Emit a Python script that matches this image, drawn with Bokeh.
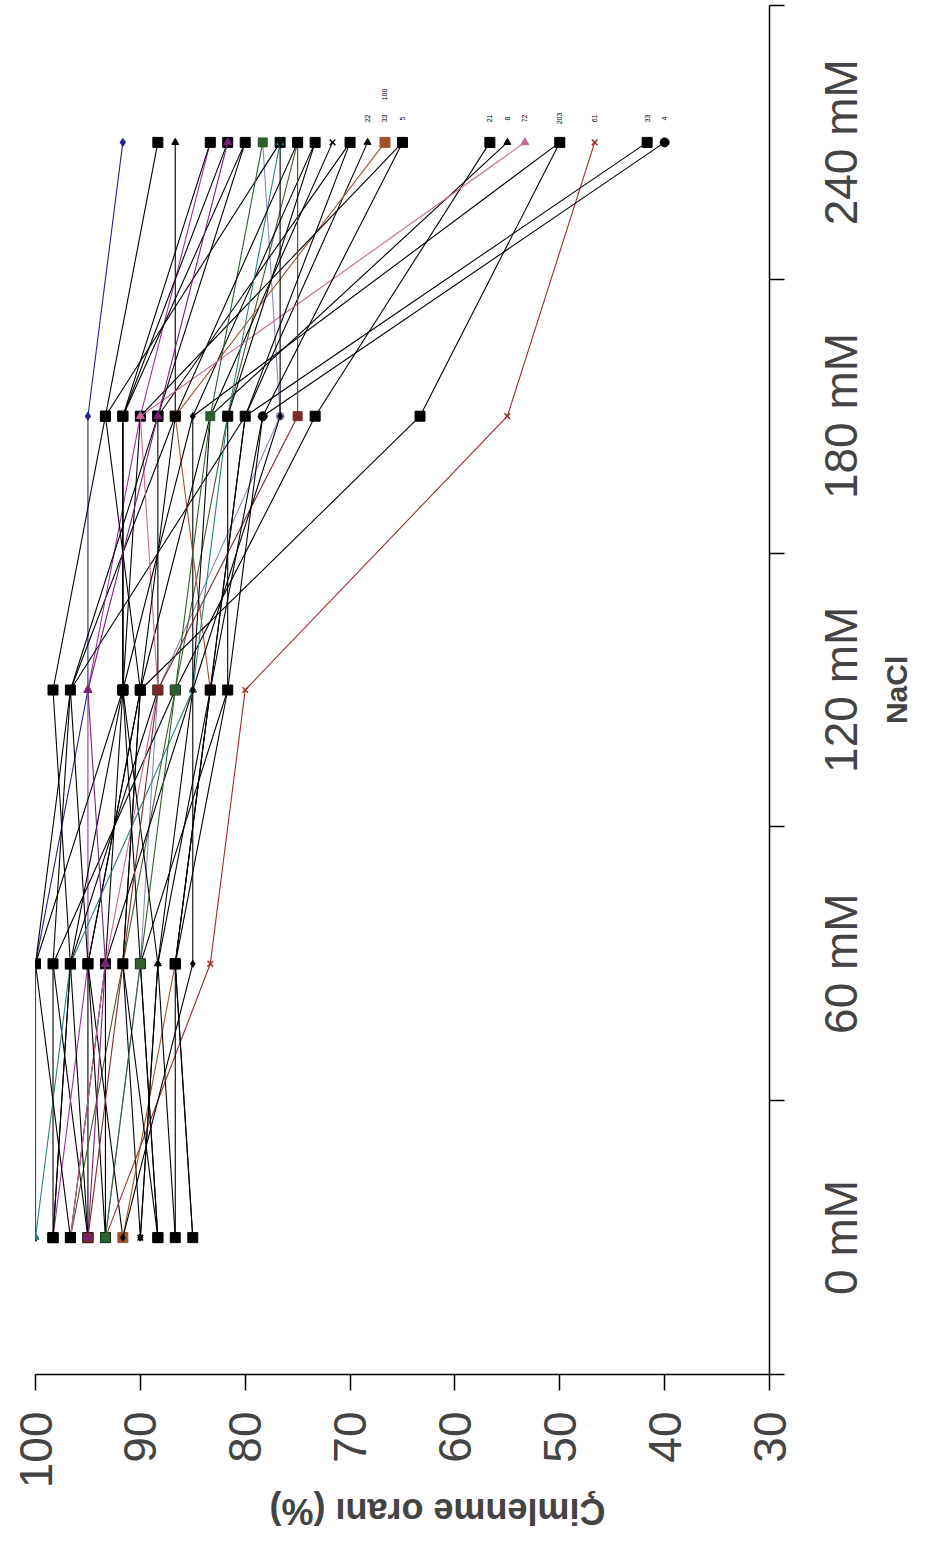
import math
from bokeh.plotting import figure
from bokeh.models import Range1d, FixedTicker, LinearAxis, ColumnDataSource
from bokeh.embed import file_html
from bokeh.resources import INLINE
from bokeh.core.properties import value

# NaCl concentrations (categories)
nacl = ["0 mM", "60 mM", "120 mM", "180 mM", "240 mM"]
pct_ticks = [100, 90, 80, 70, 60, 50, 40, 30]
x_title = "Çimlenme oranı (%)"
y_title = "NaCl"

# Germination rate (%) per genotype, at 0, 60, 120, 180, 240 mM NaCl
g01 = [100.0, 100.0, 95.0, 95.0, 91.67]
g02 = [98.33, 96.67, 98.33, 93.33, 88.33]
g03 = [95.0, 98.33, 96.67, 86.67, 86.67]
g04 = [98.33, 95.0, 95.0, 90.0, 83.33]
g05 = [96.67, 93.33, 91.67, 91.67, 81.67]
g06 = [100.0, 100.0, 91.67, 91.67, 80.0]
g07 = [93.33, 90.0, 88.33, 76.67, 78.33]
g08 = [95.0, 95.0, 90.0, 93.33, 76.67]
g09 = [96.67, 91.67, 86.67, 81.67, 75.0]
g10 = [93.33, 93.33, 85.0, 85.0, 73.33]
g11 = [90.0, 91.67, 90.0, 83.33, 71.67]
g12 = [95.0, 96.67, 88.33, 88.33, 70.0]
g13 = [91.67, 95.0, 96.67, 80.0, 68.33]
g14 = [91.67, 86.67, 83.33, 86.67, 66.67]
g15 = [88.33, 90.0, 91.67, 90.0, 65.0]
g16 = [98.33, 98.33, 86.67, 73.33, 56.67]
g17 = [86.67, 88.33, 85.0, 83.33, 55.0]
g18 = [96.67, 93.33, 88.33, 90.0, 53.33]
g19 = [93.33, 95.0, 90.0, 63.33, 50.0]
g20 = [90.0, 88.33, 91.67, 85.0, 50.0]
g21 = [93.33, 83.33, 80.0, 55.0, 46.67]
g22 = [85.0, 86.67, 83.33, 80.0, 41.67]
g23 = [88.33, 90.0, 81.67, 78.33, 40.0]
g24 = [100.0, 96.67, 85.0, 81.67, 76.67]
g25 = [96.67, 100.0, 96.67, 88.33, 80.0]
g26 = [95.0, 91.67, 88.33, 75.0, 75.0]
g27 = [86.67, 86.67, 81.67, 81.67, 73.33]
g28 = [93.33, 90.0, 86.67, 83.33, 78.33]
g29 = [91.67, 85.0, 85.0, 76.67, 76.67]
g30 = [98.33, 96.67, 91.67, 91.67, 83.33]
g31 = [95.0, 93.33, 95.0, 88.33, 81.67]
g32 = [90.0, 88.33, 83.33, 80.0, 70.0]
g33 = [88.33, 91.67, 90.0, 86.67, 75.0]
g34 = [85.0, 86.67, 83.33, 78.33, 65.0]

series = [g01, g02, g03, g04, g05, g06, g07, g08, g09, g10, g11, g12,
          g13, g14, g15, g16, g17, g18, g19, g20, g21, g22, g23, g24,
          g25, g26, g27, g28, g29, g30, g31, g32, g33, g34]

# small data labels above the 240 mM points
lab_values = [68.33, 66.67, 66.67, 65.0, 56.67, 55.0, 53.33, 50.0, 46.67, 41.67, 40.0]
lab_texts = ["22", "33", "100", "5", "21", "8", "72", "203", "61", "33", "4"]
lab_levels = [1, 1, 2, 1, 1, 1, 1, 1, 1, 1, 1]

K = "#000000"
colors = ["#22228f", K, K, "#993399", K, K, "#8a8ab8", K, "#4a5a30", K, K, K,
          K, "#a0522d", K, K, K, "#cc6699", K, K, "#a02828", K, K, "#2a8080",
          K, "#7a2a2a", K, "#2f5f2f", K, K, "#7a1f7a", K, K, K]
markers = ["diamond", "square", "triangle", "triangle", "square", "diamond", "circle",
           "square", "square", "diamond", "x", "square", "triangle", "square",
           "square", "square", "triangle", "triangle", "square", "diamond", "x",
           "square", "circle", "triangle", "square", "square", "square", "square",
           "diamond", "square", "triangle", "diamond", "square", "triangle"]
sizes = [8, 10, 7, 8, 10, 7, 8, 10, 9, 7, 8, 10, 7, 10, 10, 10, 7, 8, 10, 7, 8,
         10, 9, 7, 10, 9, 10, 9, 7, 10, 8, 7, 10, 7]

# ---- layout constants (pixels) ----
W, H = 932, 1555
B_LEFT, B_RIGHT, B_TOP, B_BOTTOM = 35, 163, 5, 178
FRAME_W = W - B_LEFT - B_RIGHT
FRAME_H = H - B_TOP - B_BOTTOM
X0, X1 = 100, 30
Y0, Y1 = -0.5, len(nacl) - 0.5
px_per_x = FRAME_W / abs(X0 - X1)
px_per_y = FRAME_H / (Y1 - Y0)

REG = {"0": .556, "1": .556, "2": .556, "3": .556, "4": .556, "5": .556, "6": .556,
       "7": .556, "8": .556, "9": .556, " ": .278, "m": .833, "M": .833}
BOLD = {" ": .278, "m": .889, "N": .722, "a": .556, "C": .722, "l": .278, "Ç": .722,
        "i": .278, "e": .556, "n": .611, "o": .611, "r": .389, "ı": .278, "(": .333,
        ")": .333, "%": .889}

def text_len(s, size, table):
    return sum(table.get(ch, .6) for ch in s) * size

TICK_FS, CAT_FS, YT_FS, XT_FS = 46, 46, 30, 36

p = figure(width=W, height=H, output_backend="svg", toolbar_location=None,
           x_range=Range1d(X0, X1), y_range=Range1d(Y0, Y1),
           x_axis_location=None, y_axis_location=None,
           min_border_left=B_LEFT, min_border_right=B_RIGHT, min_border_top=B_TOP,
           min_border_bottom=B_BOTTOM)
p.outline_line_color = None
p.grid.grid_line_color = None
p.background_fill_color = "white"

ypos = list(range(len(nacl)))
for s, c, m, sz in zip(series, colors, markers, sizes):
    src = ColumnDataSource(dict(x=s, y=ypos))
    p.line("x", "y", source=src, line_color=c, line_width=1.1)
    if m == "x":
        p.scatter("x", "y", source=src, marker=m, size=sz, line_color=c, line_width=1.5)
    else:
        p.scatter("x", "y", source=src, marker=m, size=sz, fill_color=c, line_color=c)

last = len(nacl) - 1
lsrc = ColumnDataSource(dict(x=lab_values, y=[last + (24 * lv) / px_per_y for lv in lab_levels], t=lab_texts))
p.text("x", "y", text="t", source=lsrc, angle=math.pi / 2, text_font_size="7px",
       text_align="center", text_baseline="middle", text_color="black",
       text_font=value("Liberation Sans"))

# bottom axis: germination rate
xaxis = LinearAxis(ticker=FixedTicker(ticks=pct_ticks))
xaxis.major_label_orientation = math.pi / 2
xaxis.major_tick_out = 16
xaxis.major_tick_in = 0
xaxis.minor_tick_line_color = None
xaxis.major_label_text_font_size = f"{TICK_FS}px"
xaxis.major_label_text_font = "Liberation Sans"
xaxis.major_label_standoff = 21
xaxis.axis_line_width = 1.5
xaxis.major_tick_line_width = 1.5
p.add_layout(xaxis, "below")

# bottom title (upside-down), placed as a single-tick axis below
title_center_px = 437
tx = X0 - (title_center_px - text_len(x_title, XT_FS, BOLD) / 2 - B_LEFT) / px_per_x
xtitle_axis = LinearAxis(ticker=FixedTicker(ticks=[tx]))
xtitle_axis.major_label_overrides = {tx: x_title}
xtitle_axis.major_label_orientation = math.pi
xtitle_axis.major_label_text_font_size = f"{XT_FS}px"
xtitle_axis.major_label_text_font = "Liberation Sans"
xtitle_axis.major_label_text_font_style = "bold"
xtitle_axis.major_label_standoff = 20
xtitle_axis.axis_line_color = None
xtitle_axis.major_tick_line_color = None
xtitle_axis.minor_tick_line_color = None
xtitle_axis.major_tick_out = 0
xtitle_axis.major_tick_in = 0
p.add_layout(xtitle_axis, "below")

# right axis: NaCl concentration; ticks at category boundaries, labels centred
half = [text_len(t, CAT_FS, REG) / 2 / px_per_y for t in nacl]
lab_ticks = [i - h for i, h in zip(ypos, half)]
yaxis = LinearAxis(ticker=FixedTicker(ticks=lab_ticks,
                                      minor_ticks=[i - 0.5 for i in range(len(nacl) + 1)]))
yaxis.major_label_overrides = {t: n for t, n in zip(lab_ticks, nacl)}
yaxis.major_tick_line_color = None
yaxis.major_tick_out = 0
yaxis.major_tick_in = 0
yaxis.minor_tick_out = 15
yaxis.minor_tick_in = 0
yaxis.minor_tick_line_width = 1.5
yaxis.axis_line_width = 1.5
yaxis.major_label_orientation = math.pi / 2
yaxis.major_label_text_font_size = f"{CAT_FS}px"
yaxis.major_label_text_font = "Liberation Sans"
yaxis.major_label_standoff = 57
p.add_layout(yaxis, "right")

# right title "NaCl" as a single-tick axis
ny = (len(nacl) - 1) / 2 - text_len(y_title, YT_FS, BOLD) / 2 / px_per_y
ytitle_axis = LinearAxis(ticker=FixedTicker(ticks=[ny]))
ytitle_axis.major_label_overrides = {ny: y_title}
ytitle_axis.major_label_orientation = math.pi / 2
ytitle_axis.major_label_text_font_size = f"{YT_FS}px"
ytitle_axis.major_label_text_font = "Liberation Sans"
ytitle_axis.major_label_text_font_style = "bold"
ytitle_axis.major_label_standoff = 0
ytitle_axis.axis_line_color = None
ytitle_axis.major_tick_line_color = None
ytitle_axis.minor_tick_line_color = None
ytitle_axis.major_tick_out = 0
ytitle_axis.major_tick_in = 0
p.add_layout(ytitle_axis, "right")

open("out.html", "w").write(file_html(p, INLINE))
